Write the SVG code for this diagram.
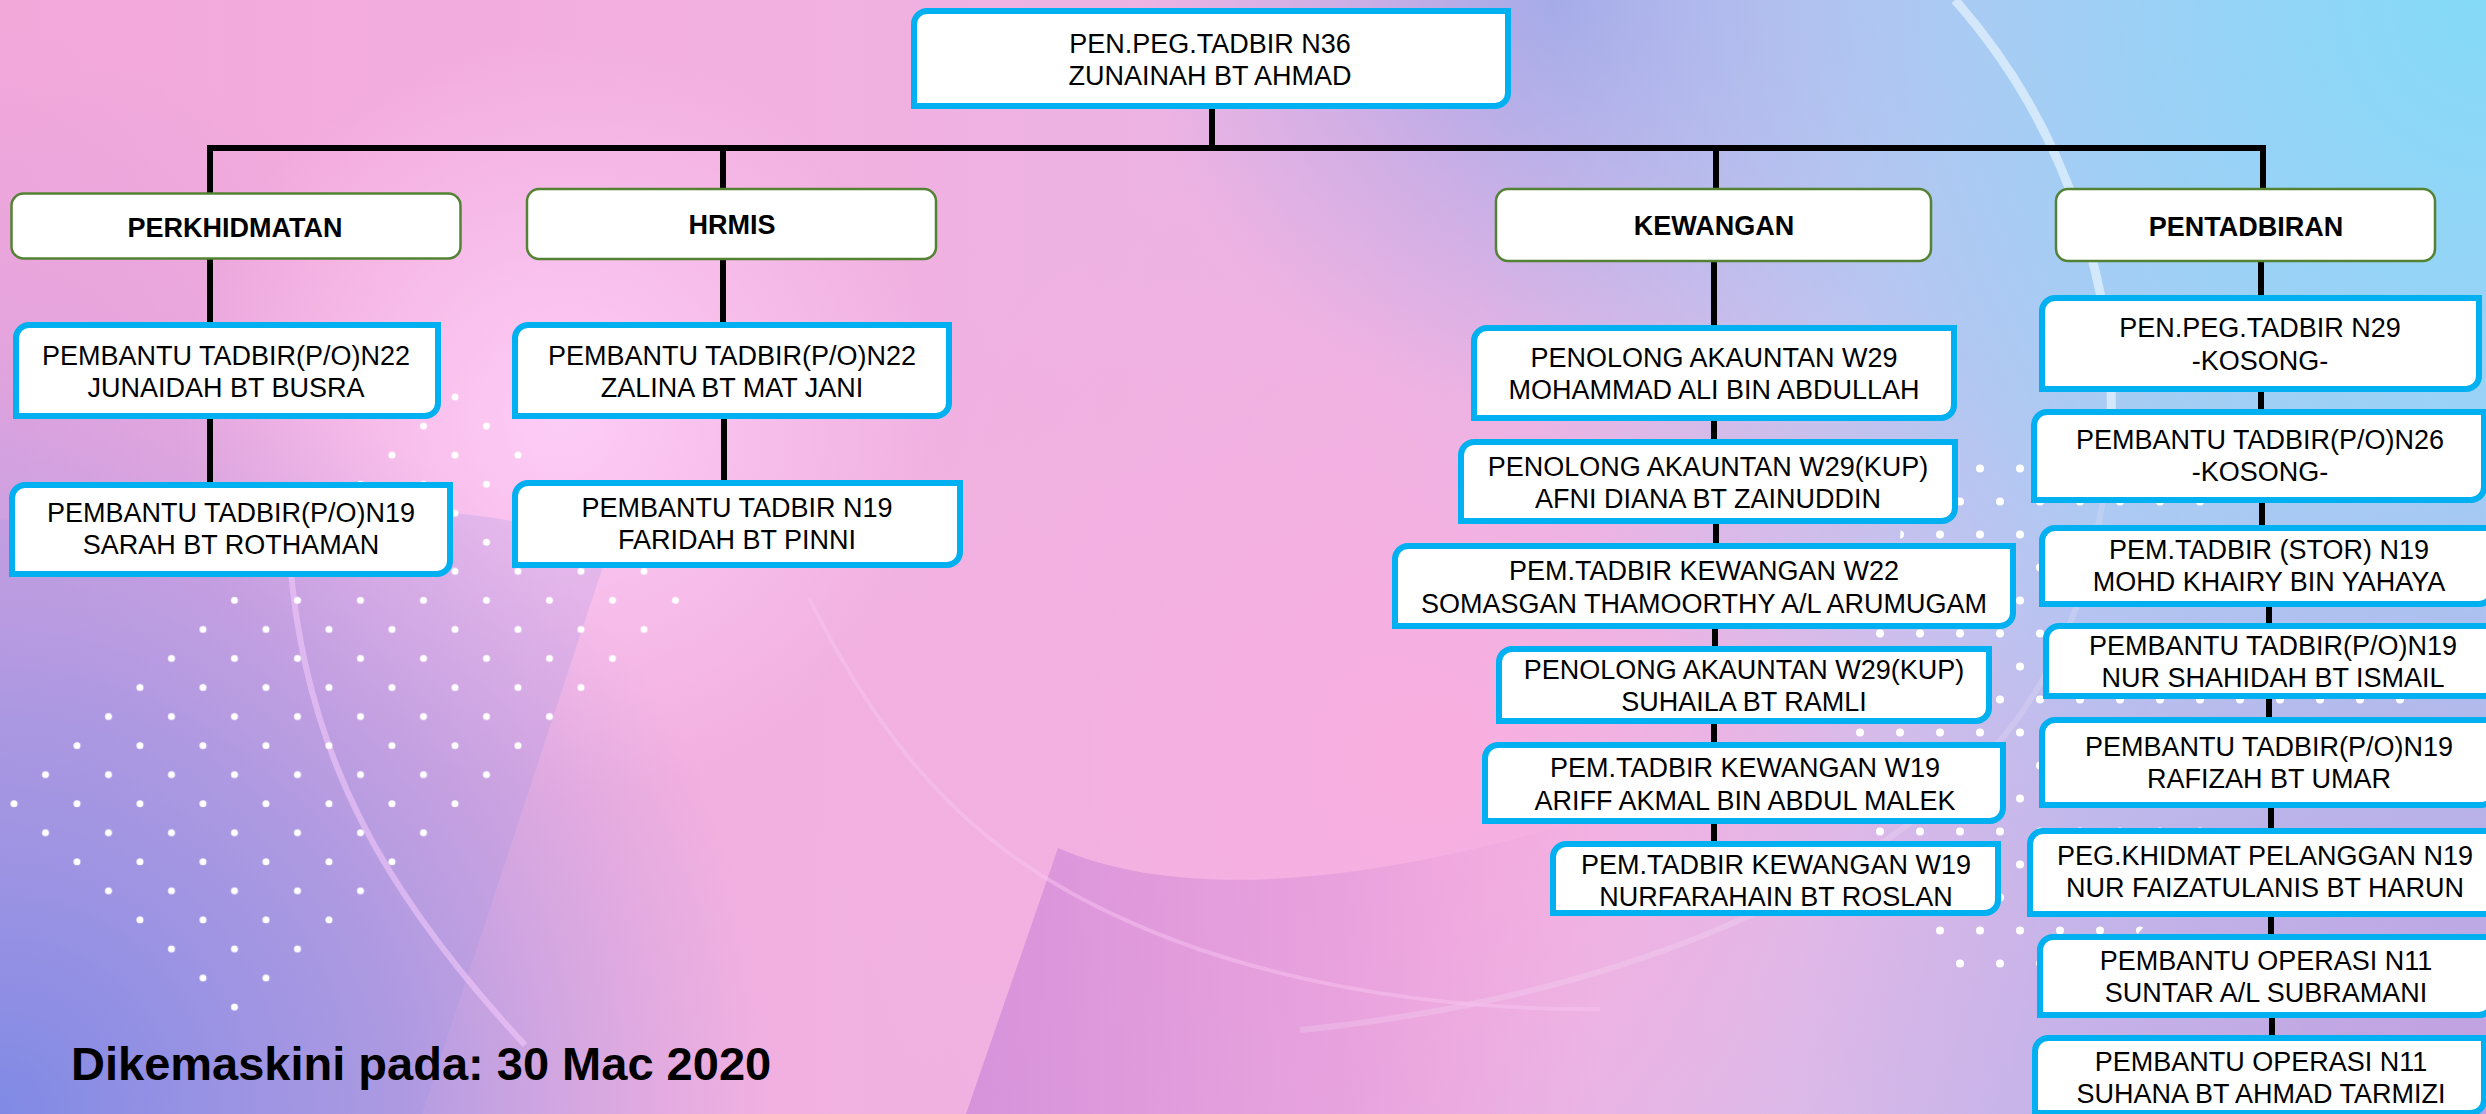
<svg xmlns="http://www.w3.org/2000/svg" width="2486" height="1114" viewBox="0 0 2486 1114">
<style>
.bx{fill:#fff;stroke:#00B0F0;stroke-width:6}
.cat{fill:#fff;stroke:#548235;stroke-width:2.5}
.t{font-family:"Liberation Sans",Arial,sans-serif;font-size:27px;fill:#000;text-anchor:middle}
.tb{font-weight:bold}
.ln{stroke:#000;stroke-width:6;fill:none;stroke-linecap:butt}
.dot{fill:#fff}
</style>
<defs>
<linearGradient id="bgBase" x1="0" y1="0" x2="1" y2="0">
<stop offset="0" stop-color="#F3A8DA"/>
<stop offset="0.3" stop-color="#F2B0E0"/>
<stop offset="0.55" stop-color="#EAB4E4"/>
<stop offset="0.8" stop-color="#C8C0EE"/>
<stop offset="1" stop-color="#A6D2F6"/>
</linearGradient>
<radialGradient id="gCyan" gradientUnits="userSpaceOnUse" cx="2486" cy="0" r="1050">
<stop offset="0" stop-color="#84DAF8" stop-opacity="1"/>
<stop offset="0.5" stop-color="#9CD0F6" stop-opacity="0.7"/>
<stop offset="1" stop-color="#A8C8F4" stop-opacity="0"/>
</radialGradient>
<radialGradient id="gTopBlue" gradientUnits="userSpaceOnUse" cx="1560" cy="0" r="420">
<stop offset="0" stop-color="#96A2E6" stop-opacity="0.8"/>
<stop offset="1" stop-color="#A8A8E8" stop-opacity="0"/>
</radialGradient>
<radialGradient id="gBL" gradientUnits="userSpaceOnUse" cx="0" cy="1114" r="780">
<stop offset="0" stop-color="#7888E6" stop-opacity="1"/>
<stop offset="0.5" stop-color="#9494E4" stop-opacity="0.7"/>
<stop offset="1" stop-color="#B0A0E6" stop-opacity="0"/>
</radialGradient>
<radialGradient id="gPinkB" gradientUnits="userSpaceOnUse" cx="1450" cy="760" r="650">
<stop offset="0" stop-color="#FBAEDF" stop-opacity="0.9"/>
<stop offset="1" stop-color="#FBAEDF" stop-opacity="0"/>
</radialGradient>
<radialGradient id="gBR" gradientUnits="userSpaceOnUse" cx="2486" cy="1114" r="700">
<stop offset="0" stop-color="#CC8ED8" stop-opacity="0.8"/>
<stop offset="1" stop-color="#D090DA" stop-opacity="0"/>
</radialGradient>
<radialGradient id="gGlow" gradientUnits="userSpaceOnUse" cx="560" cy="420" r="380">
<stop offset="0" stop-color="#FFD2FA" stop-opacity="0.85"/>
<stop offset="1" stop-color="#FFD2FA" stop-opacity="0"/>
</radialGradient>
<radialGradient id="gLM" gradientUnits="userSpaceOnUse" cx="0" cy="450" r="420">
<stop offset="0" stop-color="#D8A0E0" stop-opacity="0.7"/>
<stop offset="1" stop-color="#D8A0E0" stop-opacity="0"/>
</radialGradient>
<linearGradient id="gWedge" gradientUnits="userSpaceOnUse" x1="966" y1="0" x2="1600" y2="0">
<stop offset="0" stop-color="#CC86D8" stop-opacity="0.7"/>
<stop offset="0.6" stop-color="#D88CD8" stop-opacity="0.4"/>
<stop offset="1" stop-color="#E898DA" stop-opacity="0"/>
</linearGradient>
<pattern id="dotsL" patternUnits="userSpaceOnUse" x="439.25" y="382.475" width="63" height="58.1">
<circle class="dot" cx="15.75" cy="14.525" r="3.5"/>
<circle class="dot" cx="47.25" cy="43.575" r="3.5"/>
</pattern>
<pattern id="dotsR" patternUnits="userSpaceOnUse" x="1850" y="452" width="40" height="66">
<circle class="dot" cx="10" cy="16.5" r="4"/>
<circle class="dot" cx="30" cy="49.5" r="4"/>
</pattern>
<clipPath id="clipL"><polygon points="455,383 692,600 234.5,1021 -2,804"/></clipPath>
<clipPath id="clipR"><polygon points="1905,455 2130,455 2420,600 2420,730 2230,830 2110,965 1930,975 1840,760 1900,540"/></clipPath>
</defs>

<g id="background">
<rect x="0" y="0" width="2486" height="1114" fill="url(#bgBase)"/>
<rect x="0" y="0" width="2486" height="1114" fill="url(#gLM)"/>
<rect x="0" y="0" width="2486" height="1114" fill="url(#gGlow)"/>
<rect x="0" y="0" width="2486" height="1114" fill="url(#gPinkB)"/>
<rect x="0" y="0" width="2486" height="1114" fill="url(#gTopBlue)"/>
<rect x="0" y="0" width="2486" height="1114" fill="url(#gCyan)"/>
<rect x="0" y="0" width="2486" height="1114" fill="url(#gBR)"/>
<rect x="0" y="0" width="2486" height="1114" fill="url(#gBL)"/>
<path d="M966,1114 L1058,848 C1150,888 1300,898 1540,832 L1620,810 L1620,1114 Z" fill="url(#gWedge)"/>
<path d="M0,520 Q420,480 610,545 L422,1114 L0,1114 Z" fill="#9A90E2" fill-opacity="0.22"/>
<path d="M1955,0 C2070,130 2120,300 2110,440" fill="none" stroke="#F2FAFF" stroke-opacity="0.6" stroke-width="9"/>
<path d="M2110,440 C2100,560 2070,640 2030,700 C1950,830 1700,990 1300,1030" fill="none" stroke="#F6E8FA" stroke-opacity="0.22" stroke-width="6"/>
<path d="M290,560 C305,760 390,900 525,1045" fill="none" stroke="#F2C8FA" stroke-opacity="0.6" stroke-width="6"/>
<path d="M809,598 C900,780 1000,880 1201,950 C1350,1000 1500,1010 1600,1009" fill="none" stroke="#F8C4F0" stroke-opacity="0.5" stroke-width="4"/>
<rect x="0" y="370" width="700" height="660" fill="url(#dotsL)" clip-path="url(#clipL)"/>
<rect x="1830" y="440" width="600" height="550" fill="url(#dotsR)" clip-path="url(#clipR)"/>
</g>

<g id="connectors">
<line class="ln" x1="1212" y1="109" x2="1212" y2="148"/>
<line class="ln" x1="207" y1="148" x2="2266" y2="148"/>
<line class="ln" x1="210" y1="148" x2="210" y2="193"/>
<line class="ln" x1="723" y1="148" x2="723" y2="188"/>
<line class="ln" x1="1716" y1="148" x2="1716" y2="188"/>
<line class="ln" x1="2263" y1="148" x2="2263" y2="188"/>
<line class="ln" x1="210" y1="259" x2="210" y2="322"/>
<line class="ln" x1="210" y1="419" x2="210" y2="482"/>
<line class="ln" x1="723" y1="259" x2="723" y2="322"/>
<line class="ln" x1="724" y1="419" x2="724" y2="480"/>
<line class="ln" x1="1714" y1="261" x2="1714" y2="325"/>
<line class="ln" x1="1714" y1="421" x2="1714" y2="439"/>
<line class="ln" x1="1716" y1="524" x2="1716" y2="543"/>
<line class="ln" x1="1715" y1="629" x2="1715" y2="646"/>
<line class="ln" x1="1714" y1="724" x2="1714" y2="742"/>
<line class="ln" x1="1714" y1="824" x2="1714" y2="841"/>
<line class="ln" x1="2261" y1="262" x2="2261" y2="295"/>
<line class="ln" x1="2261" y1="392" x2="2261" y2="409"/>
<line class="ln" x1="2262" y1="503" x2="2262" y2="525"/>
<line class="ln" x1="2269" y1="607" x2="2269" y2="623"/>
<line class="ln" x1="2269" y1="699" x2="2269" y2="717"/>
<line class="ln" x1="2271" y1="808" x2="2271" y2="828"/>
<line class="ln" x1="2271" y1="917" x2="2271" y2="934"/>
<line class="ln" x1="2272" y1="1018" x2="2272" y2="1035"/>
</g>

<g id="n-top">
<path class="bx" d="M914,24 A13,13 0 0 1 927,11 H1508 V93 A13,13 0 0 1 1495,106 H914 Z"/>
<text class="t"><tspan x="1210" y="53">PEN.PEG.TADBIR N36</tspan><tspan x="1210" y="85">ZUNAINAH BT AHMAD</tspan></text>
</g>

<g id="c-perkhidmatan">
<rect class="cat" x="11.5" y="193.5" width="449" height="65" rx="12"/>
<text class="t tb" x="235" y="237">PERKHIDMATAN</text>
</g>
<g id="c-hrmis">
<rect class="cat" x="527" y="189" width="409" height="70" rx="12"/>
<text class="t tb" x="732" y="234">HRMIS</text>
</g>
<g id="c-kewangan">
<rect class="cat" x="1496" y="189" width="435" height="72" rx="12"/>
<text class="t tb" x="1714" y="235">KEWANGAN</text>
</g>
<g id="c-pentadbiran">
<rect class="cat" x="2056" y="189" width="379" height="72" rx="12"/>
<text class="t tb" x="2246" y="236">PENTADBIRAN</text>
</g>

<g id="n-junaidah">
<path class="bx" d="M16,338 A13,13 0 0 1 29,325 H438 V403 A13,13 0 0 1 425,416 H16 Z"/>
<text class="t"><tspan x="226" y="365">PEMBANTU TADBIR(P/O)N22</tspan><tspan x="226" y="397">JUNAIDAH BT BUSRA</tspan></text>
</g>
<g id="n-sarah">
<path class="bx" d="M12,498 A13,13 0 0 1 25,485 H450 V561 A13,13 0 0 1 437,574 H12 Z"/>
<text class="t"><tspan x="231" y="522">PEMBANTU TADBIR(P/O)N19</tspan><tspan x="231" y="554">SARAH BT ROTHAMAN</tspan></text>
</g>
<g id="n-zalina">
<path class="bx" d="M515,338 A13,13 0 0 1 528,325 H949 V403 A13,13 0 0 1 936,416 H515 Z"/>
<text class="t"><tspan x="732" y="365">PEMBANTU TADBIR(P/O)N22</tspan><tspan x="732" y="397">ZALINA BT MAT JANI</tspan></text>
</g>
<g id="n-faridah">
<path class="bx" d="M515,496 A13,13 0 0 1 528,483 H960 V552 A13,13 0 0 1 947,565 H515 Z"/>
<text class="t"><tspan x="737" y="517">PEMBANTU TADBIR N19</tspan><tspan x="737" y="549">FARIDAH BT PINNI</tspan></text>
</g>

<g id="n-mohammad">
<path class="bx" d="M1474,341 A13,13 0 0 1 1487,328 H1954 V405 A13,13 0 0 1 1941,418 H1474 Z"/>
<text class="t"><tspan x="1714" y="367">PENOLONG AKAUNTAN W29</tspan><tspan x="1714" y="399">MOHAMMAD ALI BIN ABDULLAH</tspan></text>
</g>
<g id="n-afni">
<path class="bx" d="M1461,455 A13,13 0 0 1 1474,442 H1955 V508 A13,13 0 0 1 1942,521 H1461 Z"/>
<text class="t"><tspan x="1708" y="476">PENOLONG AKAUNTAN W29(KUP)</tspan><tspan x="1708" y="508">AFNI DIANA BT ZAINUDDIN</tspan></text>
</g>
<g id="n-somasgan">
<path class="bx" d="M1395,559 A13,13 0 0 1 1408,546 H2013 V613 A13,13 0 0 1 2000,626 H1395 Z"/>
<text class="t"><tspan x="1704" y="580">PEM.TADBIR KEWANGAN W22</tspan><tspan x="1704" y="613">SOMASGAN THAMOORTHY A/L ARUMUGAM</tspan></text>
</g>
<g id="n-suhaila">
<path class="bx" d="M1499,662 A13,13 0 0 1 1512,649 H1989 V708 A13,13 0 0 1 1976,721 H1499 Z"/>
<text class="t"><tspan x="1744" y="679">PENOLONG AKAUNTAN W29(KUP)</tspan><tspan x="1744" y="711">SUHAILA BT RAMLI</tspan></text>
</g>
<g id="n-ariff">
<path class="bx" d="M1485,758 A13,13 0 0 1 1498,745 H2003 V808 A13,13 0 0 1 1990,821 H1485 Z"/>
<text class="t"><tspan x="1745" y="777">PEM.TADBIR KEWANGAN W19</tspan><tspan x="1745" y="810">ARIFF AKMAL BIN ABDUL MALEK</tspan></text>
</g>
<g id="n-nurfarahain">
<path class="bx" d="M1553,857 A13,13 0 0 1 1566,844 H1998 V900 A13,13 0 0 1 1985,913 H1553 Z"/>
<text class="t"><tspan x="1776" y="874">PEM.TADBIR KEWANGAN W19</tspan><tspan x="1776" y="906">NURFARAHAIN BT ROSLAN</tspan></text>
</g>

<g id="n-n29">
<path class="bx" d="M2042,311 A13,13 0 0 1 2055,298 H2479 V376 A13,13 0 0 1 2466,389 H2042 Z"/>
<text class="t"><tspan x="2260" y="337">PEN.PEG.TADBIR N29</tspan><tspan x="2260" y="370">-KOSONG-</tspan></text>
</g>
<g id="n-n26">
<path class="bx" d="M2034,425 A13,13 0 0 1 2047,412 H2484 V487 A13,13 0 0 1 2471,500 H2034 Z"/>
<text class="t"><tspan x="2260" y="449">PEMBANTU TADBIR(P/O)N26</tspan><tspan x="2260" y="481">-KOSONG-</tspan></text>
</g>
<g id="n-stor">
<path class="bx" d="M2042,541 A13,13 0 0 1 2055,528 H2492 V591 A13,13 0 0 1 2479,604 H2042 Z"/>
<text class="t"><tspan x="2269" y="559">PEM.TADBIR (STOR) N19</tspan><tspan x="2269" y="591">MOHD KHAIRY BIN YAHAYA</tspan></text>
</g>
<g id="n-shahidah">
<path class="bx" d="M2046,639 A13,13 0 0 1 2059,626 H2497 V683 A13,13 0 0 1 2484,696 H2046 Z"/>
<text class="t"><tspan x="2273" y="655">PEMBANTU TADBIR(P/O)N19</tspan><tspan x="2273" y="687">NUR SHAHIDAH BT ISMAIL</tspan></text>
</g>
<g id="n-rafizah">
<path class="bx" d="M2042,733 A13,13 0 0 1 2055,720 H2494 V792 A13,13 0 0 1 2481,805 H2042 Z"/>
<text class="t"><tspan x="2269" y="756">PEMBANTU TADBIR(P/O)N19</tspan><tspan x="2269" y="788">RAFIZAH BT UMAR</tspan></text>
</g>
<g id="n-faizatulanis">
<path class="bx" d="M2030,844 A13,13 0 0 1 2043,831 H2497 V901 A13,13 0 0 1 2484,914 H2030 Z"/>
<text class="t"><tspan x="2265" y="865">PEG.KHIDMAT PELANGGAN N19</tspan><tspan x="2265" y="897">NUR FAIZATULANIS BT HARUN</tspan></text>
</g>
<g id="n-suntar">
<path class="bx" d="M2040,950 A13,13 0 0 1 2053,937 H2492 V1002 A13,13 0 0 1 2479,1015 H2040 Z"/>
<text class="t"><tspan x="2266" y="970">PEMBANTU OPERASI N11</tspan><tspan x="2266" y="1002">SUNTAR A/L SUBRAMANI</tspan></text>
</g>
<g id="n-suhana">
<path class="bx" d="M2035,1051 A13,13 0 0 1 2048,1038 H2484 V1100 A13,13 0 0 1 2471,1113 H2035 Z"/>
<text class="t"><tspan x="2261" y="1071">PEMBANTU OPERASI N11</tspan><tspan x="2261" y="1103">SUHANA BT AHMAD TARMIZI</tspan></text>
</g>

<g id="footer">
<text x="71" y="1080" style="font-family:'Liberation Sans',Arial,sans-serif;font-size:47px;font-weight:bold;fill:#000">Dikemaskini pada: 30 Mac 2020</text>
</g>
</svg>
